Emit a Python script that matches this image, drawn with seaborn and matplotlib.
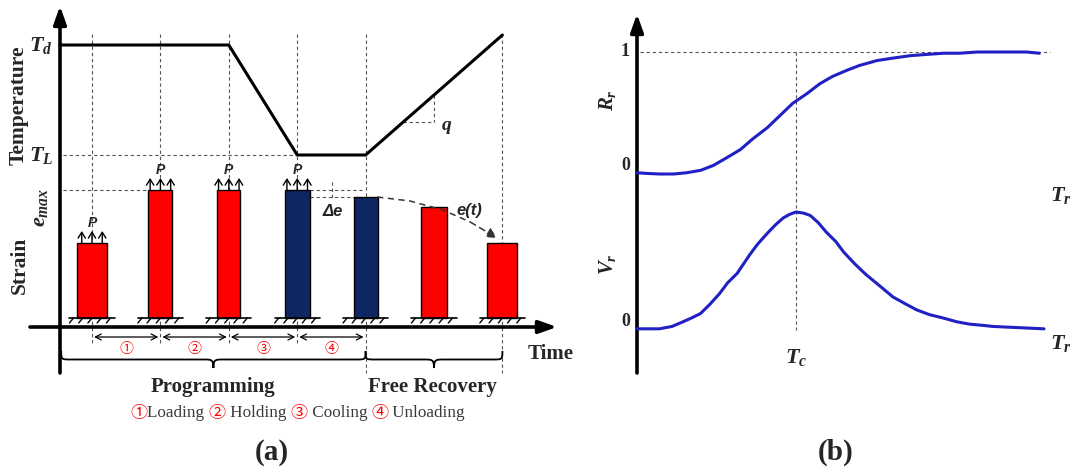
import numpy as np
import pandas as pd
import matplotlib
matplotlib.use("Agg")
import matplotlib.pyplot as plt
import seaborn as sns
from matplotlib.path import Path
from matplotlib.patches import PathPatch

# ---------------- data : panel (a) ----------------
stage_t = [1, 2, 3, 4, 5, 6, 7]                      # time stations
bar_strain = [75, 128, 128, 128, 121, 111, 75]       # specimen length above ground
bar_width = [0.44, 0.35, 0.34, 0.37, 0.35, 0.39, 0.44]
bar_phase = ["hot", "hot", "hot", "cold", "cold", "hot", "hot"]
bar_loaded = [True, True, True, True, False, False, False]
ground_level = 9

temp_t = [0.53, 3, 4, 5, 7]
temp_val = [282, 282, 172, 172, 292]
T_d, T_L, e_max = 282, 172, 137

et_t = [5.17, 5.65, 6.13, 6.53, 6.92]                # e(t) recovery path
et_val = [130, 126, 117, 105, 89]

phase_bounds = [1, 2, 3, 4, 5]
phase_marks = ["①", "②", "③", "④"]
program_span = [0.55, 5]
recovery_span = [5, 7]
q_span = [5.55, 6.0]

legend_parts = [("①", "red"), ("Loading ", "#3a3a3a"), ("②", "red"), (" Holding ", "#3a3a3a"),
                ("③", "red"), (" Cooling ", "#3a3a3a"), ("④", "red"), (" Unloading", "#3a3a3a")]

# ---------------- data : panel (b) ----------------
Tr_R = [0.00, 0.06, 0.14, 0.23, 0.31, 0.40, 0.48, 0.56, 0.65, 0.73, 0.82, 0.90, 0.98, 1.07,
        1.15, 1.23, 1.32, 1.40, 1.51, 1.61, 1.72, 1.82, 1.93, 2.03, 2.14, 2.24, 2.35, 2.45, 2.53]
R_vals = [0.01, 0.005, 0.00, 0.00, 0.01, 0.03, 0.07, 0.13, 0.20, 0.29, 0.38, 0.48, 0.58, 0.66,
          0.74, 0.80, 0.85, 0.89, 0.93, 0.95, 0.97, 0.98, 0.99, 0.99, 1.00, 1.00, 1.00, 1.00, 0.99]
Tr_V = [0.00, 0.07, 0.14, 0.22, 0.29, 0.34, 0.40, 0.46, 0.52, 0.57, 0.63, 0.67, 0.71, 0.76,
        0.82, 0.87, 0.92, 0.96, 1.00, 1.05, 1.09, 1.14, 1.19, 1.25, 1.30, 1.37, 1.44, 1.53,
        1.61, 1.69, 1.76, 1.84, 1.93, 2.01, 2.09, 2.17, 2.24, 2.40, 2.56]
V_vals = [0.01, 0.01, 0.01, 0.03, 0.07, 0.10, 0.14, 0.22, 0.31, 0.40, 0.48, 0.56, 0.64, 0.73,
          0.82, 0.89, 0.95, 0.98, 1.00, 0.99, 0.97, 0.91, 0.83, 0.75, 0.66, 0.56, 0.47, 0.37,
          0.28, 0.22, 0.17, 0.13, 0.10, 0.07, 0.05, 0.04, 0.03, 0.02, 0.01]
T_c = 1.0

# ---------------- style ----------------
sns.set_theme(style="white")
plt.rcParams["font.family"] = ["Liberation Serif", "Noto Sans CJK SC", "DejaVu Sans"]
plt.rcParams["mathtext.fontset"] = "custom"
plt.rcParams["mathtext.it"] = "Liberation Serif:italic:bold"
plt.rcParams["mathtext.rm"] = "Liberation Serif:bold"
plt.rcParams["mathtext.bf"] = "Liberation Serif:italic:bold"

RED = "#ff0000"
NAVY = "#0d2762"
BLUE = "#2020c4"
DASH = dict(color="#555555", lw=0.8, linestyle=(0, (3, 2.5)))
SERIF_B = dict(family="Liberation Serif", weight="bold")
SANS_BI = dict(family="Liberation Sans", weight="bold", style="italic")

fig = plt.figure(figsize=(10.73, 4.72), dpi=100)

# ---- panel (a) axes: time on x, level on y ----
PX = 68.4
ax_a = fig.add_axes([0, 0, 1, 1])
ax_a.set_xlim(1 - 92 / PX, 1 + (1073 - 92) / PX)
ax_a.set_ylim(327 - 472, 327)
ax_a.axis("off")


def xa(px):
    return 1 + (px - 92) / PX


def ya(py):
    return 327 - py


# axes arrows
arrow_kw = dict(arrowstyle="-|>,head_length=0.9,head_width=0.32", lw=2.6, color="black",
                shrinkA=0, shrinkB=0)
ax_a.annotate("", xy=(xa(60), ya(6)), xytext=(xa(60), ya(373)), arrowprops=arrow_kw)
ax_a.annotate("", xy=(xa(557), 0), xytext=(xa(30), 0), arrowprops=arrow_kw)

# dashed guide lines
for t in phase_bounds[:-1]:
    ax_a.plot([t, t], [ya(34), ya(345)], zorder=1, **DASH)
for t in [recovery_span[0], recovery_span[1]]:
    ax_a.plot([t, t], [ya(34), ya(373)], zorder=1, **DASH)
ax_a.plot([xa(63), temp_t[2]], [T_L, T_L], zorder=1, **DASH)
ax_a.plot([xa(63), stage_t[1] - bar_width[1] / 2], [e_max, e_max], zorder=1, **DASH)

# delta e marks
x4r = stage_t[3] + bar_width[3] / 2
x5l = stage_t[4] - bar_width[4] / 2
ax_a.plot([x4r, xa(362)], [bar_strain[3] + ground_level] * 2, zorder=1, **DASH)
ax_a.plot([x4r, x5l], [bar_strain[4] + ground_level] * 2, zorder=1, **DASH)
xm_de = (x4r + x5l) / 2
ax_a.plot([xm_de, xm_de], [ya(182), ya(200)], zorder=1, **DASH)
ax_a.text(xa(333), ya(211), "Δe", ha="center", va="center", fontsize=12, **SANS_BI)

# temperature history
sns.lineplot(x=temp_t, y=temp_val, ax=ax_a, color="black", lw=2.2, zorder=4)

# q slope triangle
qy = np.interp(q_span, temp_t, temp_val)
ax_a.plot([q_span[1], q_span[1]], [qy[1], qy[0]], zorder=1, **DASH)
ax_a.plot([q_span[0], q_span[1]], [qy[0], qy[0]], zorder=1, **DASH)
ax_a.text(xa(447), ya(128), "$q$", ha="center", va="center", fontsize=14)

# specimen bars
colors = [RED if p == "hot" else NAVY for p in bar_phase]
ax_a.bar(stage_t, bar_strain, width=bar_width, bottom=ground_level, color=colors,
         edgecolor="black", linewidth=1.0, zorder=3)

# ground hatching
for c in stage_t:
    ax_a.plot([c - 0.33, c + 0.33], [ground_level, ground_level], color="black", lw=1.2, zorder=3)
    for k in range(5):
        x0 = c - 0.27 + k * 0.135
        ax_a.plot([x0, x0 - 0.06], [ground_level, ground_level - 5], color="black", lw=1.0, zorder=3)

# load arrows
for c, h, ld in zip(stage_t, bar_strain, bar_loaded):
    if not ld:
        continue
    top = h + ground_level
    for dx in (-0.15, 0, 0.15):
        ax_a.annotate("", xy=(c + dx, top + 12), xytext=(c + dx, top),
                      arrowprops=dict(arrowstyle="->,head_length=0.35,head_width=0.22", lw=1.0,
                                      color="black", shrinkA=0, shrinkB=0), zorder=5)
    ax_a.text(c, top + 20, "P", ha="center", va="center", fontsize=10, **SANS_BI)

# e(t) recovery path
sns.lineplot(x=et_t[:-1], y=et_val[:-1], ax=ax_a, color="#333333", lw=1.1,
             linestyle=(0, (4, 3)), zorder=5)
ax_a.annotate("", xy=(et_t[-1], et_val[-1]), xytext=(et_t[-2], et_val[-2]),
              arrowprops=dict(arrowstyle="-|>,head_length=0.5,head_width=0.25", lw=1.1,
                              color="#333333", linestyle=(0, (4, 3)), shrinkA=0, shrinkB=0))
ax_a.text(xa(469), ya(210), "e(t)", ha="center", va="center", fontsize=12, **SANS_BI)

# phase arrows and numbers
for i, lab in enumerate(phase_marks):
    a, b = phase_bounds[i], phase_bounds[i + 1]
    ax_a.annotate("", xy=(b - 0.03, ya(337)), xytext=(a + 0.03, ya(337)),
                  arrowprops=dict(arrowstyle="<->,head_length=0.35,head_width=0.18", lw=0.9,
                                  color="black", shrinkA=0, shrinkB=0))
    ax_a.text((a + b) / 2, ya(349), lab, ha="center", va="center", fontsize=10,
              color=RED, family=["Noto Sans CJK SC", "DejaVu Sans"])


def brace(ax, x0, x1, y0, h, r):
    xm = (x0 + x1) / 2
    ym = y0 - h / 2
    yt = y0 - h
    verts = [(x0, y0), (x0, ym), (x0, ym), (x0 + r, ym),
             (xm - r, ym),
             (xm - r * 0.2, ym), (xm, ym), (xm, yt),
             (xm, ym), (xm + r * 0.2, ym), (xm + r, ym),
             (x1 - r, ym),
             (x1, ym), (x1, ym), (x1, y0)]
    codes = [Path.MOVETO, Path.CURVE4, Path.CURVE4, Path.CURVE4, Path.LINETO,
             Path.CURVE4, Path.CURVE4, Path.CURVE4,
             Path.CURVE4, Path.CURVE4, Path.CURVE4, Path.LINETO,
             Path.CURVE4, Path.CURVE4, Path.CURVE4]
    ax.add_patch(PathPatch(Path(verts, codes), fill=False, lw=1.3, color="black"))


brace(ax_a, program_span[0], program_span[1], ya(351), 17, 0.14)
brace(ax_a, recovery_span[0], recovery_span[1], ya(351), 17, 0.14)

ax_a.text(np.mean(program_span), ya(387), "Programming", ha="center", va="center",
          fontsize=15, **SERIF_B)
ax_a.text(np.mean(recovery_span) - 0.03, ya(387), "Free Recovery", ha="center", va="center",
          fontsize=15, **SERIF_B)
ax_a.text(xa(551), ya(354), "Time", ha="center", va="center", fontsize=15, **SERIF_B)

# axis titles panel (a)
ax_a.text(xa(19), ya(105), "Temperature", rotation=90, ha="center", va="center",
          fontsize=15.5, **SERIF_B)
ax_a.text(xa(20), ya(265), "Strain", rotation=90, ha="center", va="center",
          fontsize=15.5, **SERIF_B)
ax_a.text(xa(41), T_d, "$T_d$", ha="center", va="center", fontsize=16)
ax_a.text(xa(41), T_L, "$T_L$", ha="center", va="center", fontsize=16)
ax_a.text(xa(41), ya(207), "$e_{max}$", rotation=90, ha="center", va="center", fontsize=16)

# legend line
renderer = fig.canvas.get_renderer()
xpos = 130
for txt, col in legend_parts:
    fam = ["Noto Sans CJK SC", "DejaVu Sans"] if col == "red" else ["Liberation Serif"]
    tt = fig.text(xpos / 1073, 1 - 413 / 472, txt, ha="left", va="center",
                  fontsize=12.3, color=col, family=fam)
    bb = tt.get_window_extent(renderer)
    xpos += bb.width

fig.text(272 / 1073, 1 - 452 / 472, "(a)", ha="center", va="center", fontsize=21, **SERIF_B)
fig.text(836 / 1073, 1 - 452 / 472, "(b)", ha="center", va="center", fontsize=21, **SERIF_B)

# ---- panel (b): R_r and V_r ----
SX = 159
ax_r = fig.add_axes([0, 0, 1, 1], label="Rr")
ax_r.set_xlim(-637 / SX, (1073 - 637) / SX)
ax_r.set_ylim((174 - 472) / 122, 174 / 122)
ax_r.axis("off")
ax_r.patch.set_alpha(0)

ax_v = fig.add_axes([0, 0, 1, 1], label="Vr")
ax_v.set_xlim(-637 / SX, (1073 - 637) / SX)
ax_v.set_ylim((330 - 472) / 118, 330 / 118)
ax_v.axis("off")
ax_v.patch.set_alpha(0)


def xb(px):
    return (px - 637) / SX


def yr(py):
    return (174 - py) / 122


def yv(py):
    return (330 - py) / 118


ax_r.annotate("", xy=(0, yr(14)), xytext=(0, yr(373)), arrowprops=arrow_kw)
ax_r.annotate("", xy=(xb(1074), 0), xytext=(xb(613), 0), arrowprops=arrow_kw)
ax_v.annotate("", xy=(xb(1074), 0), xytext=(xb(611), 0), arrowprops=arrow_kw)

ax_r.plot([xb(640), xb(1050)], [1, 1], zorder=1, **DASH)
ax_r.plot([T_c, T_c], [1, yr(330)], zorder=1, **DASH)

line_kw = dict(color=BLUE, lw=2.2, zorder=4, solid_joinstyle="round", solid_capstyle="round")
sns.lineplot(x=Tr_R, y=R_vals, ax=ax_r, **line_kw)
sns.lineplot(x=Tr_V, y=V_vals, ax=ax_v, **line_kw)

ax_r.text(xb(625), 1, "$1$", ha="center", va="center", fontsize=13)
ax_r.text(xb(626), yr(166), "$0$", ha="center", va="center", fontsize=13)
ax_v.text(xb(626), yv(321), "$0$", ha="center", va="center", fontsize=13)
ax_r.text(xb(607), yr(100), "$R_r$", rotation=90, ha="center", va="center", fontsize=15)
ax_v.text(xb(607), yv(264), "$V_r$", rotation=90, ha="center", va="center", fontsize=15)
ax_v.text(T_c, yv(357), "$T_c$", ha="center", va="center", fontsize=16)
ax_r.text(xb(1050), yr(195), "$T_r$", ha="left", va="center", fontsize=16)
ax_v.text(xb(1050), yv(343), "$T_r$", ha="left", va="center", fontsize=16)

fig.savefig("out.png", dpi=100)
